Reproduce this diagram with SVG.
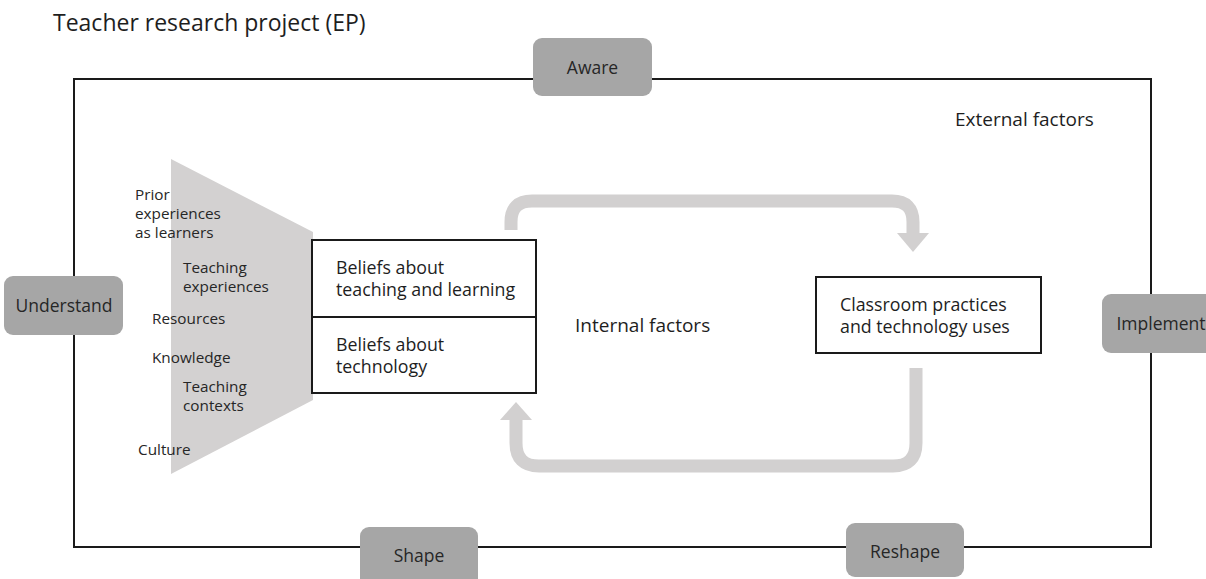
<svg xmlns="http://www.w3.org/2000/svg" width="1206" height="579" viewBox="0 0 1206 579">
  <defs>
    <style>
      text { font-family: "Open Sans", "Noto Sans", "DejaVu Sans", sans-serif; fill: #1e1e1e; }
      .title { font-size: 23px; }
      .factor { font-size: 19px; }
      .lbl { font-size: 17.8px; }
      .small { font-size: 15.3px; fill: #262626; }
      .stage rect { fill: #a6a6a6; stroke: none; }
      .stage text { font-size: 17.5px; fill: #262626; text-anchor: middle; }
      .box { fill: #ffffff; stroke: #1a1a1a; stroke-width: 2; }
      .flow { fill: none; stroke: #d2d0d0; stroke-width: 13; }
      .head { fill: #d2d0d0; }
    </style>
  </defs>

  <rect width="1206" height="579" fill="#ffffff"/>

  <text class="title" x="53" y="31">Teacher research project (EP)</text>

  <!-- external frame -->
  <g id="frame">
    <rect x="74" y="79" width="1077" height="468" fill="none" stroke="#1a1a1a" stroke-width="2"/>
    <text class="factor" x="955" y="126">External factors</text>
  </g>

  <!-- influences funnel -->
  <g id="influences">
    <polygon points="171,159 313,232 313,400 171,474" fill="#d3d1d1"/>
    <text class="small" x="135" y="200">Prior</text>
    <text class="small" x="135" y="219">experiences</text>
    <text class="small" x="135" y="238">as learners</text>
    <text class="small" x="183" y="273">Teaching</text>
    <text class="small" x="183" y="292">experiences</text>
    <text class="small" x="152" y="324">Resources</text>
    <text class="small" x="152" y="363">Knowledge</text>
    <text class="small" x="183" y="392">Teaching</text>
    <text class="small" x="183" y="411">contexts</text>
    <text class="small" x="138" y="455">Culture</text>
  </g>

  <!-- cycle arrows -->
  <g id="connectors">
    <path class="flow" d="M511,230 V222 Q511,201 532,201 H892 Q913,201 913,222 V234"/>
    <polygon class="head" points="897,233 929,233 913,252"/>
    <path class="flow" d="M916,368 V443 Q916,466 893,466 H539 Q516,466 516,443 V418"/>
    <polygon class="head" points="500,420 532,420 516,402"/>
  </g>

  <g id="beliefs">
    <rect class="box" x="312" y="240" width="224" height="153"/>
    <line x1="312" y1="317" x2="536" y2="317" stroke="#1a1a1a" stroke-width="2"/>
    <text class="lbl" x="336" y="274">Beliefs about</text>
    <text class="lbl" x="336" y="296">teaching and learning</text>
    <text class="lbl" x="336" y="351">Beliefs about</text>
    <text class="lbl" x="336" y="373">technology</text>
  </g>

  <g id="internal">
    <text class="factor" x="575" y="332">Internal factors</text>
  </g>

  <g id="practices">
    <rect class="box" x="816" y="277" width="225" height="76"/>
    <text class="lbl" x="840" y="311">Classroom practices</text>
    <text class="lbl" x="840" y="333">and technology uses</text>
  </g>

  <!-- stages on the frame -->
  <g id="aware" class="stage">
    <rect x="533" y="38" width="119" height="58" rx="9"/>
    <text x="592.5" y="74">Aware</text>
  </g>
  <g id="understand" class="stage">
    <rect x="4" y="276" width="119" height="59" rx="9"/>
    <text x="64" y="312">Understand</text>
  </g>
  <g id="implement" class="stage">
    <rect x="1102" y="294" width="119" height="59" rx="9"/>
    <text x="1161" y="330">Implement</text>
  </g>
  <g id="shape" class="stage">
    <rect x="360" y="527" width="118" height="60" rx="9"/>
    <text x="419" y="562">Shape</text>
  </g>
  <g id="reshape" class="stage">
    <rect x="846" y="523" width="118" height="54" rx="9"/>
    <text x="905" y="558">Reshape</text>
  </g>
</svg>
